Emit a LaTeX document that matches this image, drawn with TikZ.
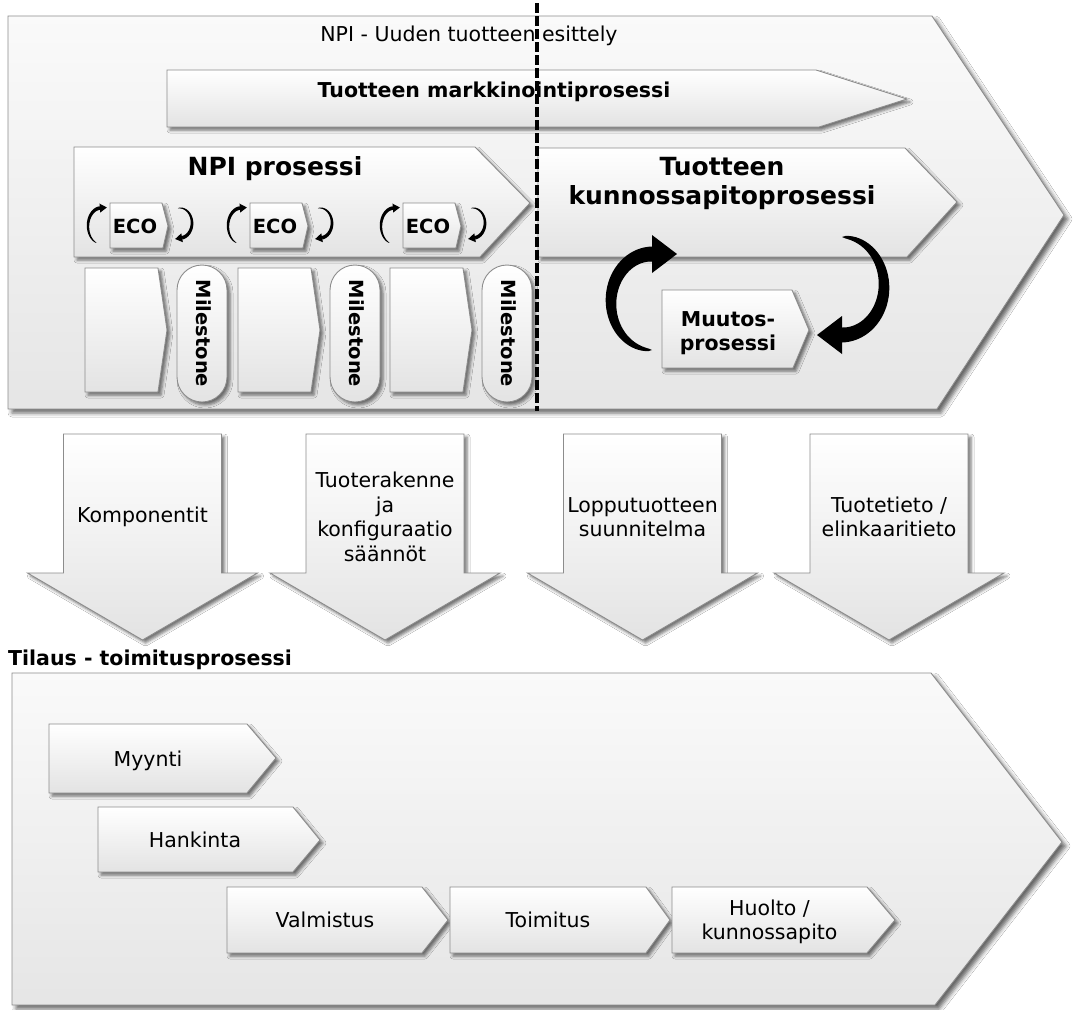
\documentclass[tikz,border=0pt]{standalone}
\usepackage{fontspec}
\setmainfont{DejaVu Sans}
\usetikzlibrary{shadows.blur}

\newcommand{\taperarrow}[9]{%
 % #1 cx, #2 cy, #3 rx, #4 ry, #5 start angle, #6 end angle, #7 max half width, #8 head half width, #9 head length
 \fill[black] plot[domain=#5:#6,samples=40,variable=\t]
   ({#1+(#3+#7*sqrt(abs((\t-(#5))/((#6)-(#5)))))*cos(\t)},{#2+(#4+#7*sqrt(abs((\t-(#5))/((#6)-(#5)))))*sin(\t)})
   -- plot[domain=#6:#5,samples=40,variable=\t]
   ({#1+(#3-#7*sqrt(abs((\t-(#5))/((#6)-(#5)))))*cos(\t)},{#2+(#4-#7*sqrt(abs((\t-(#5))/((#6)-(#5)))))*sin(\t)})
   -- cycle;
 \fill[black] ({#1+(#3+#8)*cos(#6)},{#2+(#4+#8)*sin(#6)})
   -- ({#1+(#3-#8)*cos(#6)},{#2+(#4-#8)*sin(#6)})
   -- ({#1+#3*cos(#6)-#9*sin(#6)},{#2+#4*sin(#6)+#9*cos(#6)}) -- cycle;
}

\tikzset{
  outline/.style={draw=black!45, line width=0.9pt},
  bigshape/.style={outline, top color=black!2, bottom color=black!10,
     blur shadow={shadow xshift=4pt, shadow yshift=-4pt, shadow blur radius=4pt, shadow opacity=60}},
  boxshape/.style={outline, top color=white, bottom color=black!11,
     blur shadow={shadow xshift=3pt, shadow yshift=-3pt, shadow blur radius=3pt, shadow opacity=55}},
  lbl/.style={inner sep=0pt, align=center, font=\fontsize{20.5}{24.5}\selectfont},
  blbl/.style={inner sep=0pt, align=center, font=\fontsize{20.5}{24.5}\selectfont\bfseries},
  ecolbl/.style={inner sep=0pt, align=center, font=\fontsize{19.5}{23}\selectfont\bfseries},
  biglbl/.style={inner sep=0pt, align=center, font=\fontsize{25}{29}\selectfont\bfseries},
  divider/.style={line width=4pt, dash pattern=on 10pt off 3pt, black}
}

\begin{document}
\begin{tikzpicture}[x=1pt,y=-1pt]
\useasboundingbox[fill=white] (0,0) rectangle (1077,1010);

% ---------- NPI big chevron ----------
\path[bigshape] (8,16) -- (932,16) -- (1064,215) -- (937,409) -- (8,409) -- cycle;
\node[lbl, anchor=base] (npititle) at (469,41) {NPI - Uuden tuotteen esittely};

% marketing arrow
\path[boxshape] (167,70) -- (816,70) -- (907,99) -- (819,127) -- (167,127) -- cycle;
\node[blbl, anchor=base] (mkt) at (494,97) {Tuotteen markkinointiprosessi};

% NPI process chevron
\path[boxshape] (74,147) -- (475,147) -- (530,203) -- (480,257) -- (74,257) -- cycle;
\node[biglbl, anchor=base] (npiproc) at (275,175) {NPI prosessi};

% maintenance chevron
\path[boxshape] (538,148) -- (905,148) -- (957,202) -- (907,257) -- (538,257) -- cycle;
\node[biglbl] (kunn) at (722,183) {Tuotteen\\kunnossapitoprosessi};

% ECO boxes with loops
\foreach \dx/\nm in {0/eco1,140/eco2,293/eco3}{
  \path[boxshape] (110+\dx,203) -- (162+\dx,203) -- (168+\dx,226) -- (163+\dx,248) -- (110+\dx,248) -- cycle;
  \node[ecolbl, anchor=base] (\nm) at (135+\dx,233) {ECO};
  \taperarrow{101+\dx}{226}{13}{18}{110}{265}{1.8}{4.5}{7}
  \taperarrow{180+\dx}{223}{12}{15}{-100}{80}{1.8}{4.5}{7}
}

% phases and milestones
\foreach \dx/\nm in {0/ms1,153/ms2,305/ms3}{
  \path[boxshape] (85+\dx,268) -- (158+\dx,268) -- (167+\dx,330) -- (158+\dx,392) -- (85+\dx,392) -- cycle;
  \path[boxshape, rounded corners=25pt] (177+\dx,265) rectangle (227+\dx,402);
  \node[ecolbl, rotate=-90] (\nm) at (204+\dx,333.5) {Milestone};
}

% change process
\path[boxshape] (662,290) -- (792,290) -- (809,330) -- (793,368) -- (662,368) -- cycle;
\node[blbl] (muutos) at (728,333) {Muutos-\\prosessi};
\taperarrow{652}{302}{41}{48}{90}{270}{7.5}{19}{25}
\taperarrow{842}{286}{42}{49}{-90}{90}{7.5}{19}{25}

% divider
\coordinate (dtop) at (537,3);
\coordinate (dbot) at (537,411);
\draw[divider] (dtop) -- (dbot);

% ---------- down arrows ----------
\foreach \c/\nm/\txt in {142.5/d1/{Komponentit},
                          385/d2/{Tuoterakenne\\ja\\konfiguraatio\\säännöt},
                          642.5/d3/{Lopputuotteen\\suunnitelma},
                          889/d4/{Tuotetieto /\\elinkaaritieto}}{
  \path[boxshape] (\c-79,434) -- (\c+79,434) -- (\c+79,573) -- (\c+115,573) -- (\c,640)
        -- (\c-115,573) -- (\c-79,573) -- cycle;
  \node[lbl] (\nm) at (\c,517) {\txt};
}

% ---------- order-delivery process ----------
\node[blbl, anchor=base west] (tilaus) at (8,665) {Tilaus - toimitusprosessi};
\path[bigshape] (12,673) -- (931,673) -- (1062,842) -- (935,1005) -- (12,1005) -- cycle;

\path[boxshape] (49,724) -- (247,724) -- (276,758) -- (247,793) -- (49,793) -- cycle;
\node[lbl] (myynti) at (148,761) {Myynti};
\path[boxshape] (98,807) -- (293,807) -- (320,840) -- (293,872) -- (98,872) -- cycle;
\node[lbl] (hankinta) at (195,840) {Hankinta};
\path[boxshape] (227,887) -- (422,887) -- (448,920) -- (422,953) -- (227,953) -- cycle;
\node[lbl] (valmistus) at (325,920) {Valmistus};
\path[boxshape] (450,887) -- (646,887) -- (670,920) -- (646,953) -- (450,953) -- cycle;
\node[lbl] (toimitus) at (548,920) {Toimitus};
\path[boxshape] (672,887) -- (867,887) -- (895,920) -- (867,953) -- (672,953) -- cycle;
\node[lbl] (huolto) at (769.5,922) {Huolto /\\kunnossapito};
\end{tikzpicture}
\end{document}
